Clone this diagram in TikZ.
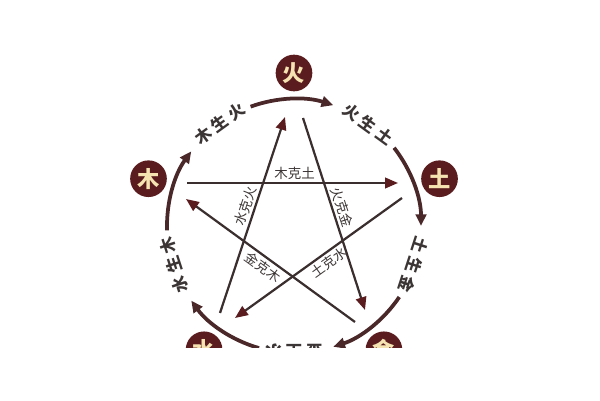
\documentclass[tikz,border=0pt]{standalone}
\usepackage{fontspec}
\newfontfamily\cjk{Noto Sans CJK SC}
\newfontfamily\cjkwide{Noto Sans CJK SC}[LetterSpace=25]
\usetikzlibrary{arrows.meta,calc}
\definecolor{wxred}{HTML}{5A1C1E}
\definecolor{wxring}{HTML}{4A2728}
\definecolor{wxline}{HTML}{3B2E2E}
\definecolor{wxcream}{HTML}{F5E3B2}
\definecolor{wxgray}{HTML}{3C3535}
\tikzset{
  element/.style={circle, fill=wxred, text=wxcream, inner sep=0pt, minimum size=1.1cm, font=\cjk\bfseries\fontsize{19}{19}\selectfont},
  shengarc/.style={draw=wxring, line width=3.2pt, -{Triangle[length=10pt,width=9pt]}},
  sheng/.style={text=wxgray, font=\cjkwide\bfseries\fontsize{14}{14}\selectfont, inner sep=0pt},
  ke/.style={draw=wxline, line width=1.9pt, -{Triangle[length=11pt,width=9pt,color=wxred]}},
  kelabel/.style={text=wxgray, font=\cjk\fontsize{11.5}{11.5}\selectfont, inner sep=2pt, sloped}
}
\begin{document}
\begin{tikzpicture}[x=0.03cm,y=0.03cm]
\useasboundingbox (0,0) rectangle (600,400);
\clip (0,52) rectangle (600,400); % picture is cut at the bottom
\coordinate (c) at (294,174);
\foreach \n/\t/\a in {huo/火/90, tu/土/18, jin/金/-54, shui/水/234, mu/木/162} % edit here for the elements
\node[element] (\n) at ($(c)+(\a:153)$) {\t};
\foreach \s in {182, 110, 38, -34, -106} % edit here for the outer arrows
\draw[shengarc] ($(c)+(\s:127)$) arc[start angle=\s, delta angle=-38, radius=127];
\foreach \n/\a/\r/\t in {muhuo/126/36/木生火, huotu/54/-36/火生土, tujin/-18/-108/土生金, jinshui/-90/180/金生水, shuimu/-162/108/水生木} % edit here for the outer labels
\node[sheng, rotate=\r] (\n) at ($(c)+(\a:126)$) {\t};
% ends of the star lines
\coordinate (mu1) at (187,217);  \coordinate (tu1) at (398,217);
\coordinate (huo1) at (303,282); \coordinate (jin1) at (365,90);
\coordinate (shui1) at (220,87); \coordinate (huo2) at (285,283);
\coordinate (jin2) at (355,78);  \coordinate (mu2) at (186,201);
\coordinate (tu2) at (402,202);  \coordinate (shui2) at (235,82);
\draw[ke] (mu1) -- node[kelabel, above, pos=.51] (mutu) {木克土} (tu1);
\draw[ke] (huo1) -- node[kelabel, above, pos=.48] (huojin) {火克金} (jin1);
\draw[ke] (shui1) -- node[kelabel, above, pos=.53] (shuihuo) {水克火} (huo2);
\draw[ke] (jin2) -- node[kelabel, below, pos=.51] (jinmu) {金克木} (mu2);
\draw[ke] (tu2) -- node[kelabel, below, pos=.47] (tushui) {土克水} (shui2);
\end{tikzpicture}
\end{document}
